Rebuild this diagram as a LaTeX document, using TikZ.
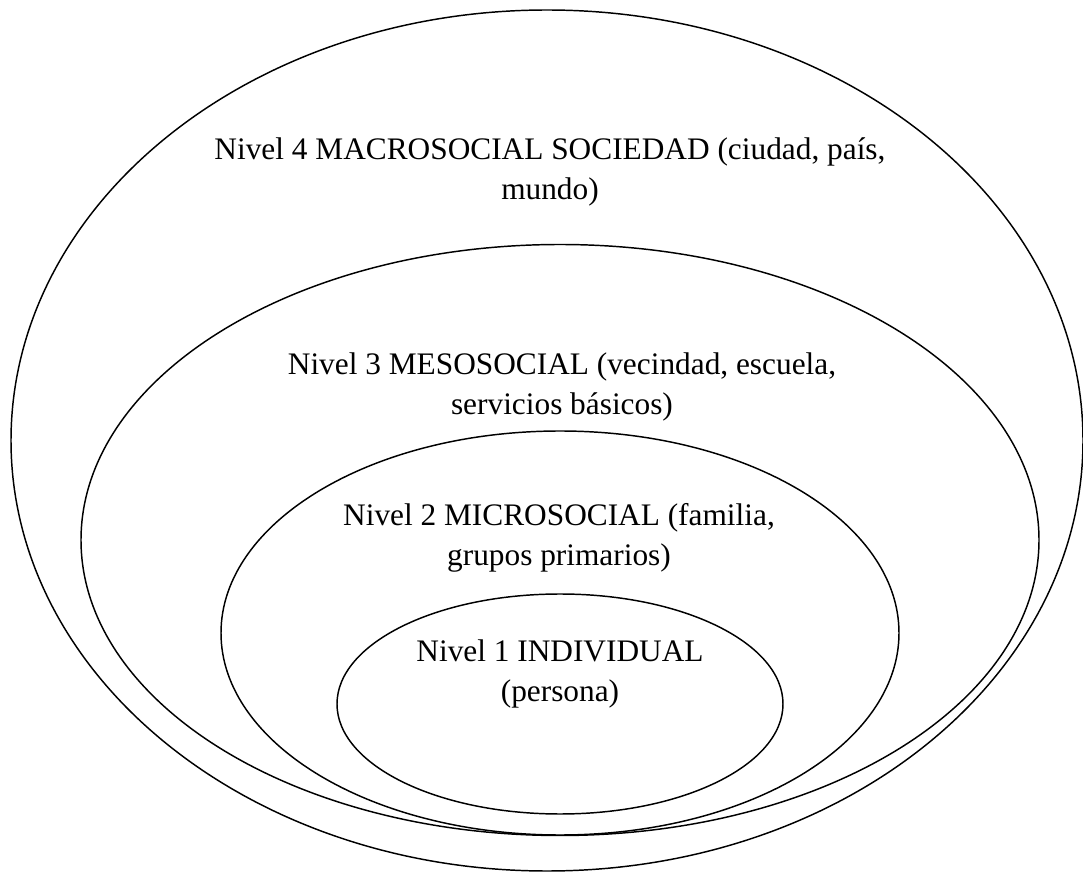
\documentclass[tikz,border=0pt]{standalone}
\usepackage{fontspec}
\setmainfont{Liberation Serif}
\usetikzlibrary{shapes.geometric}
\def\u{0.75pt}
\tikzset{
  ring/.style={draw, line width=1.1pt, ellipse, inner sep=0pt, outer sep=0pt},
  lbl/.style={align=center, inner sep=0pt, font=\fontsize{23.5}{30}\selectfont}
}
\begin{document}
\begin{tikzpicture}[x=0.75pt, y=-0.75pt]
  \useasboundingbox (0,0) rectangle (1083,873);
  % nested social levels
  \node[ring, minimum width=1072*\u, minimum height=861*\u] (macro) at (547,440.5) {};
  \node[ring, minimum width=958*\u, minimum height=591*\u] (meso) at (560,540) {};
  \node[ring, minimum width=678*\u, minimum height=404*\u] (micro) at (560,633) {};
  \node[ring, minimum width=446*\u, minimum height=220*\u] (indiv) at (560,704) {};
  % level labels
  \node[lbl] (tmacro) at (550,172) {Nivel 4 MACROSOCIAL SOCIEDAD (ciudad, país,\\ mundo)};
  \node[lbl] (tmeso) at (562,387) {Nivel 3 MESOSOCIAL (vecindad, escuela,\\ servicios básicos)};
  \node[lbl] (tmicro) at (559,538) {Nivel 2 MICROSOCIAL (familia,\\ grupos primarios)};
  \node[lbl] (tindiv) at (560,674) {Nivel 1 INDIVIDUAL\\ (persona)};
\end{tikzpicture}
\end{document}
